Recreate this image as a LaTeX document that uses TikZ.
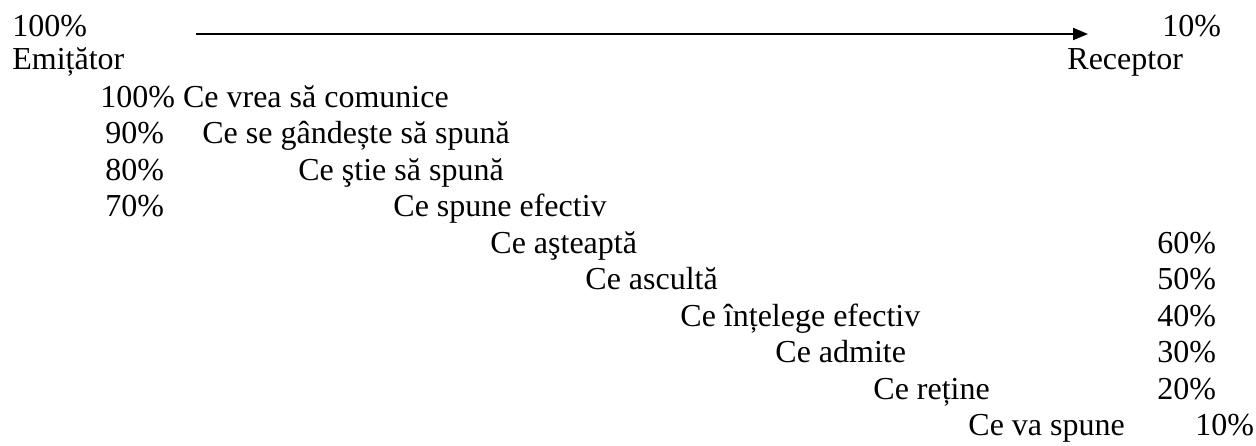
\documentclass[tikz,border=0pt]{standalone}
\usepackage{fontspec}
\setmainfont{Liberation Serif}
\usepackage{tikz}
\usetikzlibrary{arrows.meta, positioning}

\begin{document}
\begin{tikzpicture}[x=0.5pt, y=-0.5pt,
	txt/.style={anchor=base west, inner sep=0pt, font=\fontsize{16}{19}\selectfont},
	flow/.style={line width=1pt, -{Triangle[length=7.5pt, width=6pt]}}]
	% Frame:
	\useasboundingbox (0,0) rectangle (1256,445);
	% Ends and arrow:
	\node[txt] (pctsend) at (12, 36){100\%};
	\node[txt] (sender) at (12, 69){Emițător};
	\node[txt] (pctrecv) at (1162, 36){10\%};
	\node[txt] (receiver) at (1067, 69){Receptor};
	\coordinate (arrstart) at (196, 34);
	\coordinate (arrend) at (1088, 34);
	\draw[flow] (arrstart) -- (arrend);
	% Sender side:
	\node[txt] (s1) at (100, 107){100\% Ce vrea să comunice};
	\node[txt] (p2) at (105, 143.5){90\%};
	\node[txt] (s2) at (202, 143.5){Ce se gândește să spună};
	\node[txt] (p3) at (105, 180){80\%};
	\node[txt] (s3) at (298, 180){Ce ştie să spună};
	\node[txt] (p4) at (105, 216.5){70\%};
	\node[txt] (s4) at (393, 216.5){Ce spune efectiv};
	% Receiver side:
	\node[txt] (r1) at (490, 253){Ce aşteaptă};
	\node[txt] (q1) at (1157, 253){60\%};
	\node[txt] (r2) at (585, 289.5){Ce ascultă};
	\node[txt] (q2) at (1157, 289.5){50\%};
	\node[txt] (r3) at (680, 326){Ce înțelege efectiv};
	\node[txt] (q3) at (1157, 326){40\%};
	\node[txt] (r4) at (775, 362.5){Ce admite};
	\node[txt] (q4) at (1157, 362.5){30\%};
	\node[txt] (r5) at (873, 399){Ce reține};
	\node[txt] (q5) at (1157, 399){20\%};
	\node[txt] (r6) at (968, 435.5){Ce va spune};
	\node[txt] (q6) at (1195, 435.5){10\%};
\end{tikzpicture}
\end{document}
